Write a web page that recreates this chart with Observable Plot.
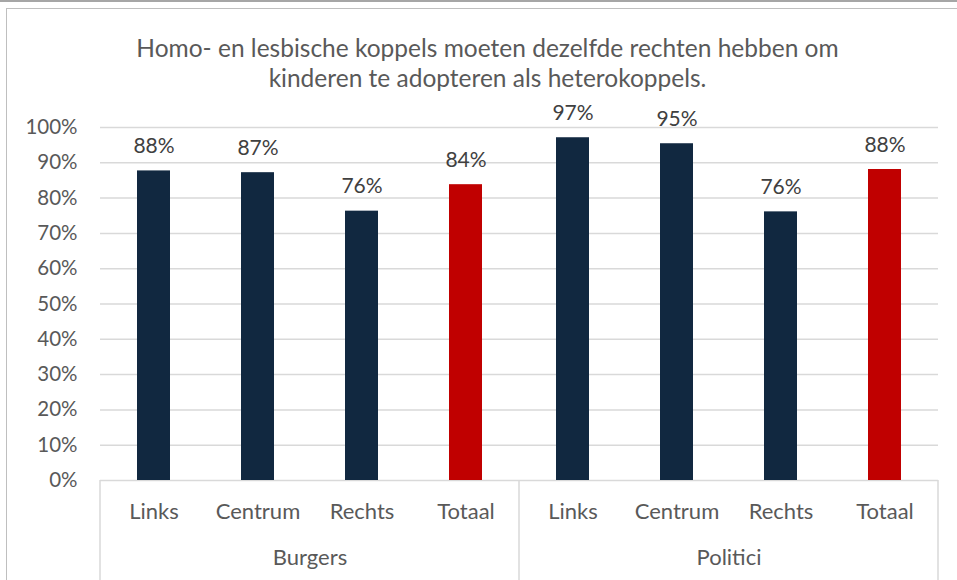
<!DOCTYPE html>
<html>
<head>
<meta charset="utf-8">
<script src="https://cdn.jsdelivr.net/npm/d3@7"></script>
<script src="https://cdn.jsdelivr.net/npm/@observablehq/plot@0.6"></script>
<style>
  html, body { margin: 0; padding: 0; background: #fff; }
  #wrap { position: relative; width: 957px; height: 580px; overflow: hidden; font-family: Lato, "Open Sans", sans-serif; }
  #topline { position: absolute; left: 0; top: 0; width: 957px; height: 0; border-top: 2px solid #a6a6a6; }
  #frame { position: absolute; left: 6px; top: 8px; width: 980px; height: 620px; border: 1px solid #bfbfbf; }
  #title { position: absolute; left: 0; top: 33px; width: 975px; text-align: center; font-size: 24.5px; line-height: 30px; color: #595959; }
  #chart { position: absolute; left: 0; top: 0; }
</style>
</head>
<body>
<div id="wrap">
  <div id="topline"></div>
  <div id="frame"></div>
  <div id="chart"></div>
  <div id="title">Homo- en lesbische koppels moeten dezelfde rechten hebben om<br>kinderen te adopteren als heterokoppels.</div>
</div>
<script>
const groups = ["Burgers", "Politici"];
const categories = ["Links", "Centrum", "Rechts", "Totaal"];
const burgers = [0.877, 0.872, 0.763, 0.838];
const politici = [0.971, 0.954, 0.761, 0.881];
const yTicks = [0, 0.1, 0.2, 0.3, 0.4, 0.5, 0.6, 0.7, 0.8, 0.9, 1.0];

const series = [burgers, politici];
const data = groups.flatMap((g, i) => categories.map((c, j) => ({group: g, category: c, value: series[i][j]})));
const fmt = d3.format(".0%");
const navy = "#112840";
const red = "#c00000";

const chart = Plot.plot({
  width: 957,
  height: 580,
  marginLeft: 100,
  marginRight: 19,
  marginTop: 127,
  marginBottom: 100,
  style: {color: "#595959", fontFamily: "Lato, 'Open Sans', sans-serif", background: "transparent", overflow: "visible"},
  fx: {domain: groups, padding: 0, label: null},
  x: {domain: categories, paddingInner: 0.685, paddingOuter: 0.3425, label: null},
  y: {domain: [0, 1], label: null},
  color: {domain: categories, range: [navy, navy, navy, red]},
  marks: [
    Plot.ruleY(yTicks, {stroke: "#d9d9d9", strokeWidth: 1.5}),
    Plot.barY(data, {fx: "group", x: "category", y: "value", fill: "category"}),
    Plot.text(data, {fx: "group", x: "category", y: "value", text: d => fmt(d.value), lineAnchor: "bottom", dy: -18, fontSize: 21, fill: "#404040"}),
    Plot.axisY({ticks: yTicks, tickFormat: fmt, tickSize: 0, tickPadding: 23, fontSize: 20.5, label: null}),
    Plot.axisX({tickSize: 0, tickPadding: 23, fontSize: 22, label: null}),
    Plot.axisFx({anchor: "bottom", tickSize: 0, tickPadding: 69, fontSize: 22, label: null})
  ]
});
document.getElementById("chart").appendChild(chart);

// group separator lines below the category axis, positioned with the plot's own scales
const fxs = chart.scale("fx");
const ys = chart.scale("y");
const edges = [fxs.apply(groups[0]), fxs.apply(groups[1]), fxs.apply(groups[1]) + fxs.bandwidth];
d3.select(chart).append("g")
  .selectAll("line").data(edges).join("line")
  .attr("x1", d => d).attr("x2", d => d)
  .attr("y1", ys.apply(0)).attr("y2", 580)
  .attr("stroke", "#d9d9d9").attr("stroke-width", 1.5);
</script>
</body>
</html>
